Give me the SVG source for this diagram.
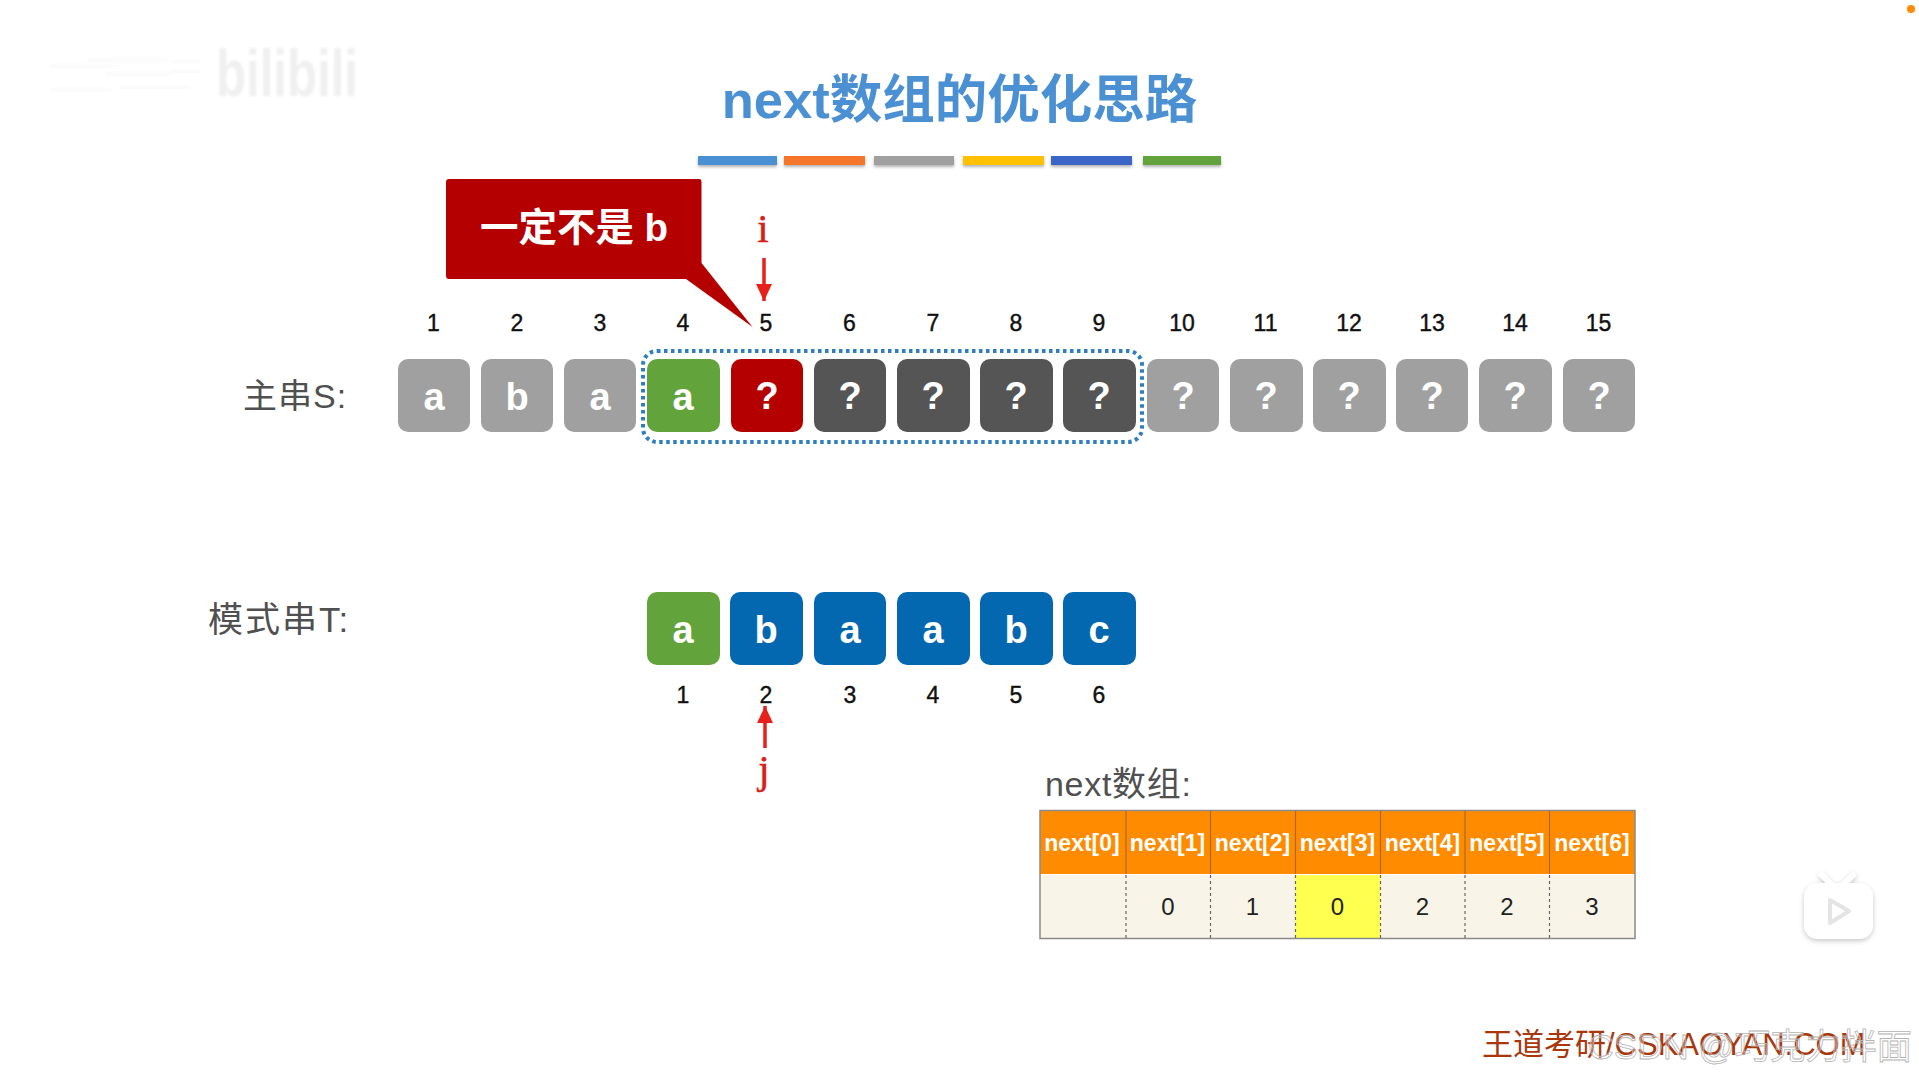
<svg xmlns="http://www.w3.org/2000/svg" width="1919" height="1079" viewBox="0 0 1919 1079">
<defs>
<filter id="sh" x="-10%" y="-50%" width="120%" height="220%"><feDropShadow dx="0" dy="2" stdDeviation="1.5" flood-color="#000" flood-opacity=".3"/></filter>
<filter id="soft" x="-30%" y="-30%" width="160%" height="160%"><feDropShadow dx="0" dy="2" stdDeviation="2.5" flood-color="#000" flood-opacity=".22"/></filter>
<filter id="blur"><feGaussianBlur stdDeviation=".8"/></filter>
<marker id="red" markerUnits="userSpaceOnUse" markerWidth="18" markerHeight="18" refX="17" refY="9" orient="auto"><path d="M0 1L17 9L0 17Z" fill="#e8201a"/></marker>
</defs>
<style>
text{font-family:"Liberation Sans","Noto Sans CJK SC",sans-serif}
.box{stroke:none}
.gray{fill:#a0a0a0}.dark{fill:#555555}.green{fill:#62a33c}.crim{fill:#b50000}.blue{fill:#0468b1}
.ch{font-size:38px;font-weight:700;fill:#fff;text-anchor:middle}
.num{font-size:23px;fill:#111;text-anchor:middle;stroke:#111;stroke-width:.4}
.lab{font-size:34px;fill:#505050}
.hd{font-size:23px;font-weight:700;fill:#fff;text-anchor:middle}
.val{font-size:24px;fill:#222;text-anchor:middle}
.sep{stroke:#666;stroke-width:1.2;stroke-dasharray:3 3}
.hsep{stroke:#a86a20;stroke-width:1.2}
.ptr{font-family:"Liberation Serif",serif;font-size:41px;fill:#d8201a;text-anchor:middle;stroke:#d8201a;stroke-width:.5}
</style>
<rect width="1919" height="1079" fill="#fff"/>
<g id="watermark-top" fill="#f0f0f0">
<g fill="#fafafa" filter="url(#blur)"><rect x="50" y="64" width="62" height="4"/><rect x="50" y="88" width="62" height="3"/><rect x="88" y="58" width="80" height="4"/><rect x="105" y="72" width="65" height="4"/><rect x="170" y="60" width="30" height="3"/><rect x="170" y="70" width="30" height="3"/><rect x="120" y="86" width="70" height="3"/></g>
<text x="216" y="96" font-size="66" font-weight="700" textLength="142" lengthAdjust="spacingAndGlyphs" filter="url(#blur)">bilibili</text>
</g>
<g id="title"><text x="959.500" y="118" font-size="52.500" font-weight="700" fill="#4a90d2" text-anchor="middle">next数组的优化思路</text></g>
<g id="title-bars" filter="url(#sh)">
<rect x="698" y="156" width="79" height="9" fill="#4a90d2"/><rect x="784" y="156" width="81" height="9" fill="#f5742a"/><rect x="874" y="156" width="80" height="9" fill="#a0a0a0"/><rect x="963" y="156" width="81" height="9" fill="#ffc000"/><rect x="1051" y="156" width="81" height="9" fill="#3a66c8"/><rect x="1143" y="156" width="78" height="9" fill="#62a33c"/>
</g>
<g id="callout">
<path d="M449 179H699Q701.500 179 701.500 182V263L752.500 327L686 279H449Q446 279 446 276V182Q446 179 449 179Z" fill="#b50000"/>
<text x="574" y="241" font-size="38.500" font-weight="700" fill="#fff" text-anchor="middle">一定不是 b</text>
</g>
<g id="label-s"><text class="lab" x="243" y="408" letter-spacing="1">主串S:</text></g>
<g id="label-t"><text class="lab" x="208" y="632" style="font-size:35px" letter-spacing="2">模式串T:</text></g>
<g id="s-numbers">
<text class="num" x="433.500" y="331">1</text><text class="num" x="517" y="331">2</text><text class="num" x="600" y="331">3</text><text class="num" x="683" y="331">4</text><text class="num" x="766" y="331">5</text><text class="num" x="849.500" y="331">6</text><text class="num" x="933" y="331">7</text><text class="num" x="1016" y="331">8</text><text class="num" x="1099" y="331">9</text><text class="num" x="1182" y="331">10</text><text class="num" x="1265.500" y="331">11</text><text class="num" x="1349" y="331">12</text><text class="num" x="1432" y="331">13</text><text class="num" x="1515" y="331">14</text><text class="num" x="1598.500" y="331">15</text>
</g>
<g id="s1"><rect class="box gray" x="398" y="359" width="72" height="73" rx="10"/><text class="ch" x="434" y="410">a</text></g>
<g id="s2"><rect class="box gray" x="481" y="359" width="72" height="73" rx="10"/><text class="ch" x="517" y="410">b</text></g>
<g id="s3"><rect class="box gray" x="564" y="359" width="72" height="73" rx="10"/><text class="ch" x="600" y="410">a</text></g>
<g id="s4"><rect class="box green" x="647" y="359" width="73" height="73" rx="10"/><text class="ch" x="683" y="410">a</text></g>
<g id="s5"><rect class="box crim" x="731" y="359" width="72" height="73" rx="10"/><text class="ch" x="767" y="409">?</text></g>
<g id="s6"><rect class="box dark" x="814" y="359" width="72" height="73" rx="10"/><text class="ch" x="850" y="409">?</text></g>
<g id="s7"><rect class="box dark" x="897" y="359" width="73" height="73" rx="10"/><text class="ch" x="933" y="409">?</text></g>
<g id="s8"><rect class="box dark" x="980" y="359" width="73" height="73" rx="10"/><text class="ch" x="1016" y="409">?</text></g>
<g id="s9"><rect class="box dark" x="1063" y="359" width="73" height="73" rx="10"/><text class="ch" x="1099" y="409">?</text></g>
<g id="s10"><rect class="box gray" x="1147" y="359" width="72" height="73" rx="10"/><text class="ch" x="1183" y="409">?</text></g>
<g id="s11"><rect class="box gray" x="1230" y="359" width="73" height="73" rx="10"/><text class="ch" x="1266" y="409">?</text></g>
<g id="s12"><rect class="box gray" x="1313" y="359" width="73" height="73" rx="10"/><text class="ch" x="1349" y="409">?</text></g>
<g id="s13"><rect class="box gray" x="1396" y="359" width="72" height="73" rx="10"/><text class="ch" x="1432" y="409">?</text></g>
<g id="s14"><rect class="box gray" x="1479" y="359" width="73" height="73" rx="10"/><text class="ch" x="1515" y="409">?</text></g>
<g id="s15"><rect class="box gray" x="1563" y="359" width="72" height="73" rx="10"/><text class="ch" x="1599" y="409">?</text></g>
<g id="window"><rect x="643" y="351" width="499" height="91" rx="14" fill="none" stroke="#2f7fc0" stroke-width="4" stroke-dasharray="3.500 3.500"/></g>
<g id="t1"><rect class="box green" x="647" y="592" width="73" height="73" rx="10"/><text class="ch" x="683" y="643">a</text></g>
<g id="t2"><rect class="box blue" x="730" y="592" width="73" height="73" rx="10"/><text class="ch" x="766" y="643">b</text></g>
<g id="t3"><rect class="box blue" x="814" y="592" width="72" height="73" rx="10"/><text class="ch" x="850" y="643">a</text></g>
<g id="t4"><rect class="box blue" x="897" y="592" width="73" height="73" rx="10"/><text class="ch" x="933" y="643">a</text></g>
<g id="t5"><rect class="box blue" x="980" y="592" width="73" height="73" rx="10"/><text class="ch" x="1016" y="643">b</text></g>
<g id="t6"><rect class="box blue" x="1063" y="592" width="73" height="73" rx="10"/><text class="ch" x="1099" y="643">c</text></g>
<g id="t-numbers">
<text class="num" x="683" y="703">1</text><text class="num" x="766" y="703">2</text><text class="num" x="850" y="703">3</text><text class="num" x="933" y="703">4</text><text class="num" x="1016" y="703">5</text><text class="num" x="1099" y="703">6</text>
</g>
<g id="pointer-i"><text class="ptr" x="763" y="242">i</text></g>
<g id="pointer-j"><text class="ptr" x="764" y="783">j</text></g>
<g id="connectors" fill="none" stroke="#e8201a" stroke-width="3.500">
<line x1="764" y1="258" x2="764" y2="301" marker-end="url(#red)"/>
<line x1="765" y1="748" x2="765" y2="706" marker-end="url(#red)"/>
</g>
<g id="next-label"><text class="lab" x="1045" y="796" letter-spacing=".7">next数组:</text></g>
<g id="next-table">
<rect x="1040" y="811" width="595" height="63" fill="#ff8c00"/>
<rect x="1040" y="875" width="595" height="63" fill="#f8f5e8"/>
<rect x="1295.500" y="875" width="85" height="63" fill="#ffff50"/>
<rect x="1040" y="810.500" width="595" height="128" fill="none" stroke="#8a8a8a" stroke-width="1.500"/>
<path class="hsep" d="M1126 811V874M1210.500 811V874M1295.500 811V874M1380.500 811V874M1465 811V874M1549.500 811V874"/>
<path class="sep" d="M1126 875V938M1210.500 875V938M1295.500 875V938M1380.500 875V938M1465 875V938M1549.500 875V938"/>
<text class="hd" x="1082" y="851">next[0]</text><text class="hd" x="1167.500" y="851">next[1]</text><text class="hd" x="1252.500" y="851">next[2]</text><text class="hd" x="1337.500" y="851">next[3]</text><text class="hd" x="1422.500" y="851">next[4]</text><text class="hd" x="1507" y="851">next[5]</text><text class="hd" x="1592" y="851">next[6]</text>
<text class="val" x="1168" y="915">0</text><text class="val" x="1252.500" y="915">1</text><text class="val" x="1337.500" y="915">0</text><text class="val" x="1422.500" y="915">2</text><text class="val" x="1507" y="915">2</text><text class="val" x="1592" y="915">3</text>
</g>
<g id="play-icon" filter="url(#soft)">
<path d="M1822 875L1832 885M1853 875L1843 885" stroke="#fff" stroke-width="6" stroke-linecap="round"/>
<rect x="1804" y="883" width="69" height="56" rx="14" fill="#fff"/>
<path d="M1830 900L1849 911L1830 923Z" fill="#fff" stroke="#e4e4e4" stroke-width="4" stroke-linejoin="round"/>
</g>
<g id="brand"><text x="1482" y="1055" font-size="31" fill="#a8380c">王道考研/CSKAOYAN.COM</text></g>
<g id="watermark-bottom"><text x="1588" y="1059" font-size="35.500" fill="#fff" fill-opacity=".3" stroke="#b4b4b4" stroke-width=".8">CSDN @巧克力拌面</text></g>
<g id="dot"><circle cx="1911" cy="9" r="4" fill="#ff8a00"/></g>
</svg>
